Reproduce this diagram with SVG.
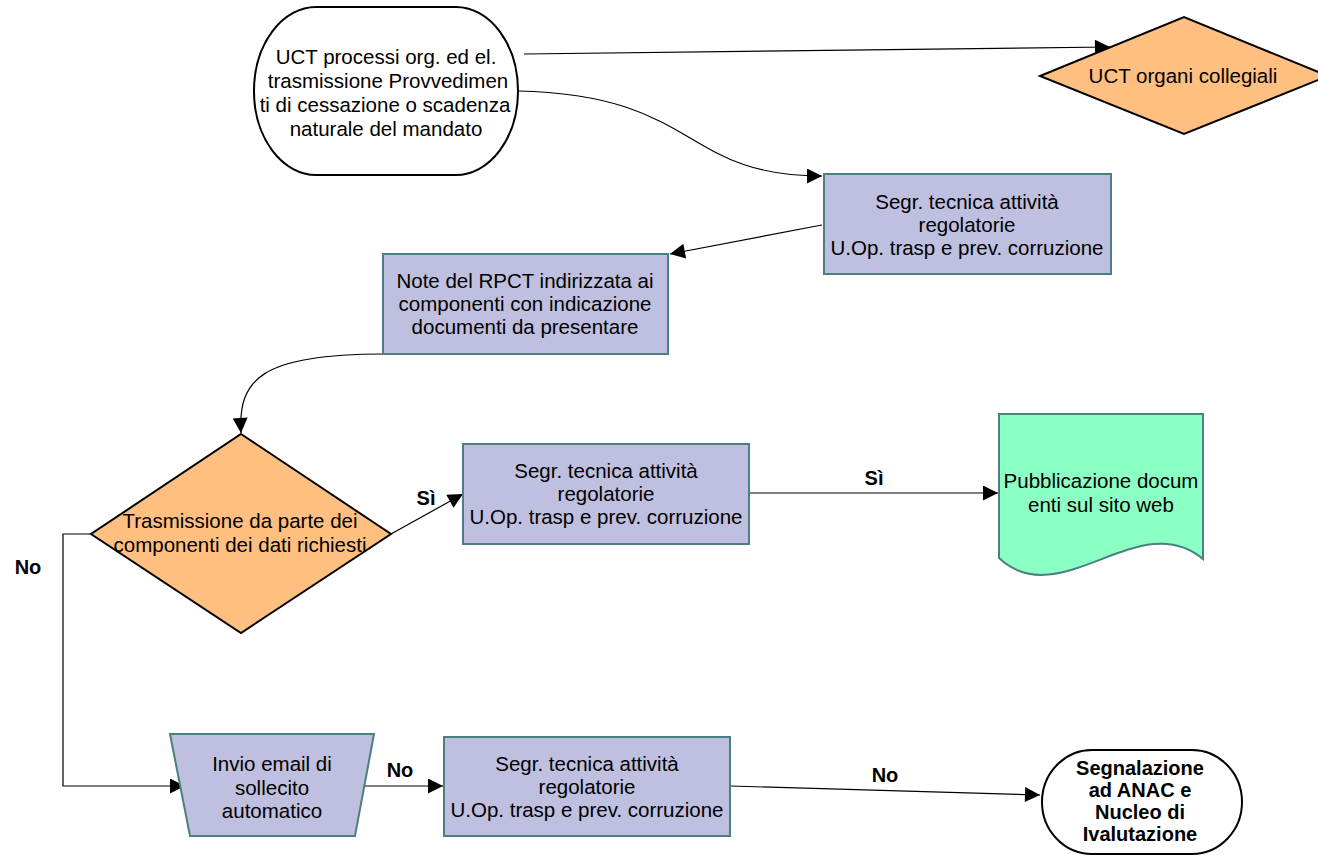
<svg xmlns="http://www.w3.org/2000/svg" width="1318" height="856" viewBox="0 0 1318 856">
<defs>
<marker id="arr" viewBox="0 0 10 10" refX="10" refY="5" markerWidth="22" markerHeight="15" markerUnits="userSpaceOnUse" orient="auto">
<path d="M0,0 L10,5 L0,10 z" fill="#000"/>
</marker>
<style>
.t{font-family:"Liberation Sans",Arial,sans-serif;font-size:20.5px;fill:#000;text-anchor:middle}
.b{font-weight:bold;font-size:20px}
.term{fill:#fff;stroke:#000;stroke-width:2}
.dia{fill:#FFBF80;stroke:#000;stroke-width:2}
.proc{fill:#BFBFDF;stroke:#4A8080;stroke-width:2}
.doc{fill:#8CFFC4;stroke:#4A8080;stroke-width:2}
.c{fill:none;stroke:#000;stroke-width:1.2;marker-end:url(#arr)}
</style>
</defs>
<rect width="1318" height="856" fill="#fff"/>
<g id="connectors">
<path class="c" d="M524,54 L1110,47"/>
<path class="c" d="M518,91 C700,95 680,176 822,176"/>
<path class="c" d="M822,225 L670,254"/>
<path class="c" d="M383,354 C260,354 238,380 241,433"/>
<path class="c" d="M391,534 L463,494"/>
<path class="c" d="M749,493 L998,493"/>
<path class="c" d="M91,534 H63 V786 H185"/>
<path class="c" d="M357,786 L443,786"/>
<path class="c" d="M730,786 L1040,795"/>
<text class="t b" x="426" y="505">Sì</text>
<text class="t b" x="874" y="485">Sì</text>
<text class="t b" x="28" y="574">No</text>
<text class="t b" x="400" y="777">No</text>
<text class="t b" x="885" y="782">No</text>
</g>
<g id="start">
<rect class="term" x="254" y="7" width="264" height="168" rx="62" ry="84"/>
<text class="t" x="386" y="64">UCT processi org. ed el.</text>
<text class="t" x="388" y="88">trasmissione Provvedimen</text>
<text class="t" x="385" y="112">ti di cessazione o scadenza</text>
<text class="t" x="386" y="136">naturale del mandato</text>
</g>
<g id="uct-organi">
<polygon class="dia" points="1040,76 1184,17 1328,76 1184,134"/>
<text class="t" x="1183" y="83">UCT organi collegiali</text>
</g>
<g id="segr1">
<rect class="proc" x="824" y="174" width="287" height="100"/>
<text class="t" x="967" y="209">Segr. tecnica attività</text>
<text class="t" x="967" y="232">regolatorie</text>
<text class="t" x="967" y="255">U.Op. trasp e prev. corruzione</text>
</g>
<g id="note">
<rect class="proc" x="383" y="254" width="285" height="100"/>
<text class="t" x="525" y="288">Note del RPCT indirizzata ai</text>
<text class="t" x="525" y="311">componenti con indicazione</text>
<text class="t" x="525" y="334">documenti da presentare</text>
</g>
<g id="decision">
<polygon class="dia" points="241,434 391,534 241,633 91,534"/>
<text class="t" x="240" y="528">Trasmissione da parte dei</text>
<text class="t" x="240" y="552">componenti dei dati richiesti</text>
</g>
<g id="segr2">
<rect class="proc" x="463" y="444" width="286" height="100"/>
<text class="t" x="606" y="478">Segr. tecnica attività</text>
<text class="t" x="606" y="501">regolatorie</text>
<text class="t" x="606" y="524">U.Op. trasp e prev. corruzione</text>
</g>
<g id="pubblicazione">
<path class="doc" d="M999,414 H1203 V559 C1140,505 1060,615 999,558 Z"/>
<text class="t" x="1101" y="488">Pubblicazione docum</text>
<text class="t" x="1101" y="512">enti sul sito web</text>
</g>
<g id="invio">
<polygon class="proc" points="170,734 374,734 355,836 190,836"/>
<text class="t" x="272" y="771">Invio email di</text>
<text class="t" x="272" y="795">sollecito</text>
<text class="t" x="272" y="818">automatico</text>
</g>
<g id="segr3">
<rect class="proc" x="444" y="737" width="286" height="99"/>
<text class="t" x="587" y="771">Segr. tecnica attività</text>
<text class="t" x="587" y="794">regolatorie</text>
<text class="t" x="587" y="817">U.Op. trasp e prev. corruzione</text>
</g>
<g id="segnalazione">
<rect class="term" x="1042" y="750" width="200" height="104" rx="50" ry="52"/>
<text class="t b" x="1140" y="775">Segnalazione</text>
<text class="t b" x="1140" y="797">ad ANAC e</text>
<text class="t b" x="1140" y="819">Nucleo di</text>
<text class="t b" x="1140" y="841">Ivalutazione</text>
</g>
</svg>
